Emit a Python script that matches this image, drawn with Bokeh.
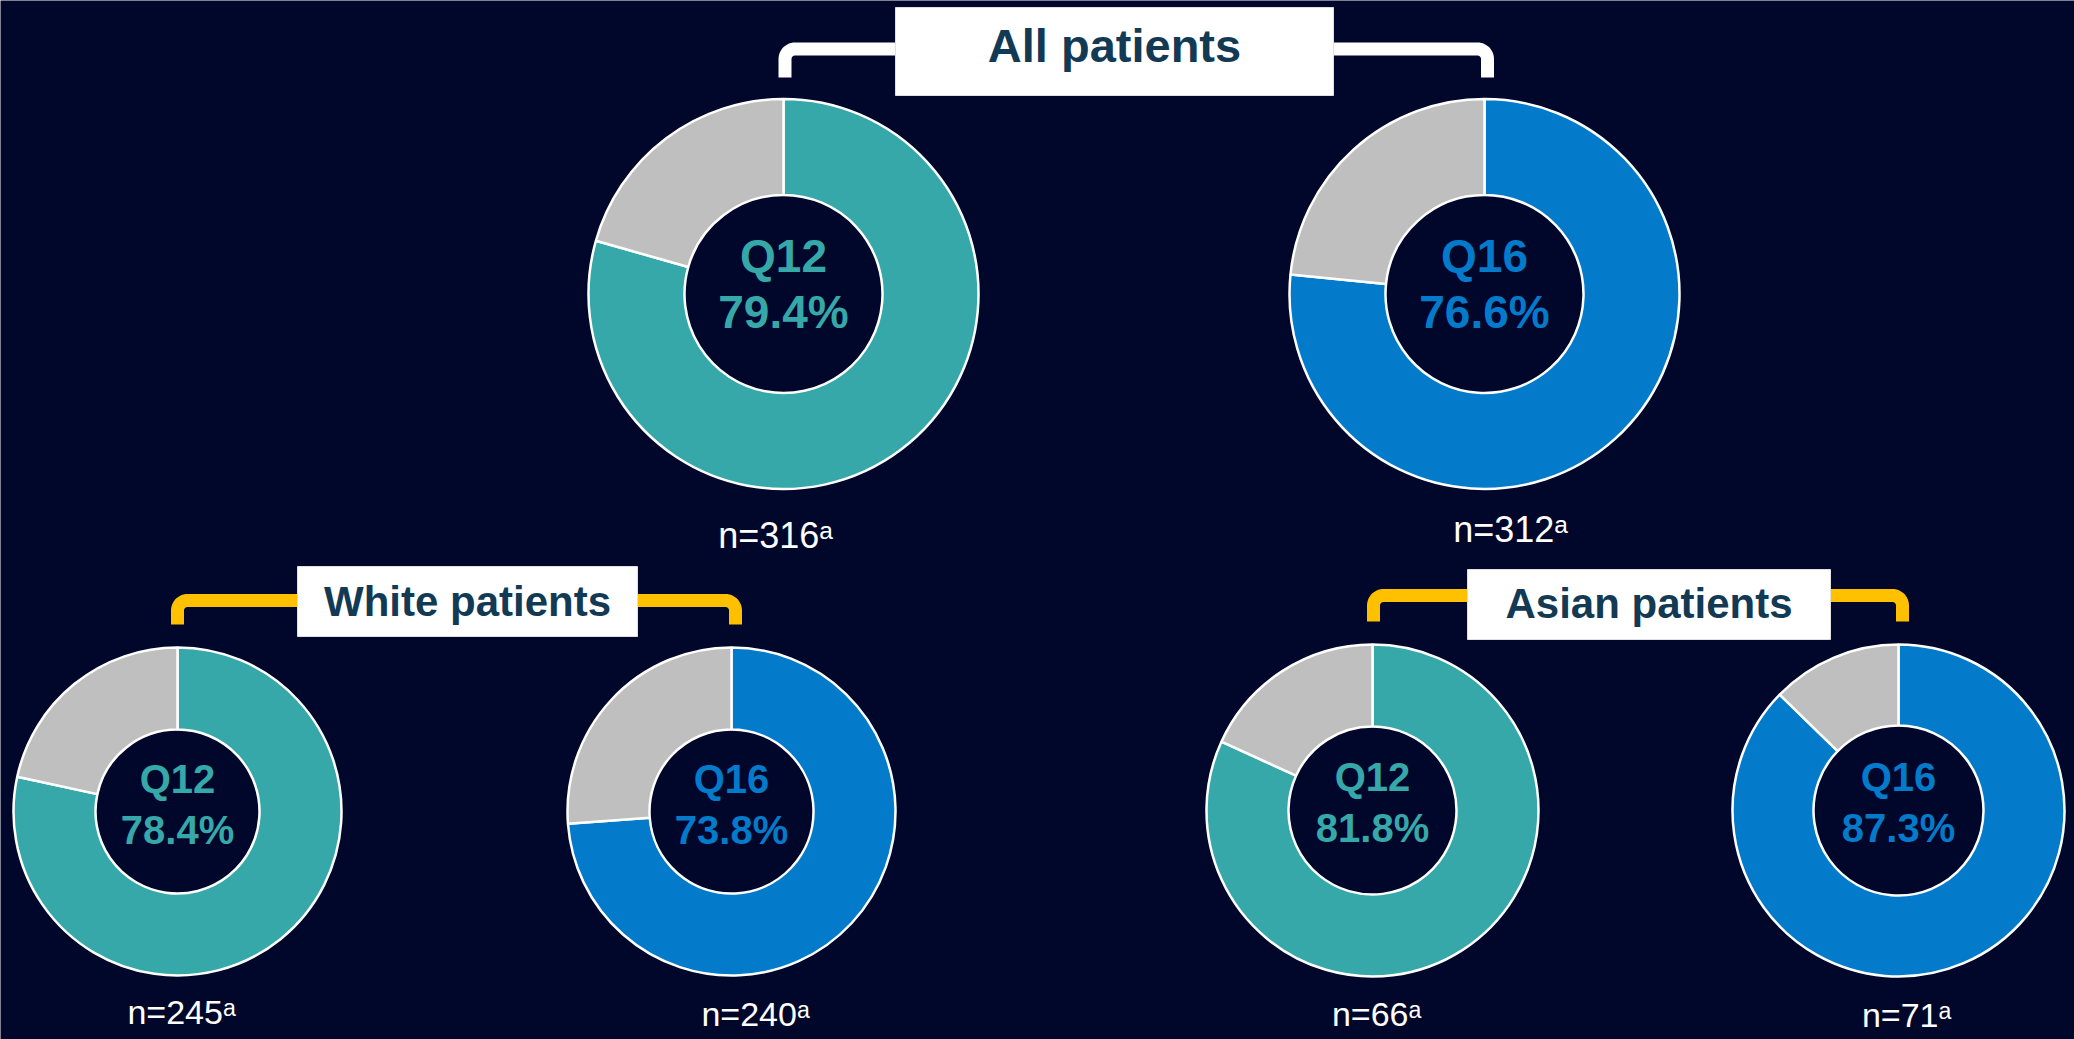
import numpy as np
from bokeh.plotting import figure
from bokeh.models import Range1d, ColumnDataSource
from bokeh.core.properties import value
from bokeh.embed import file_html
from bokeh.resources import INLINE

# ---------------- data ----------------
group_titles = ["All patients", "White patients", "Asian patients"]
doses = ["Q12", "Q16", "Q12", "Q16", "Q12", "Q16"]
pct_values = [79.4, 76.6, 78.4, 73.8, 81.8, 87.3]
n_values = [316, 312, 245, 240, 66, 71]

# ---------------- layout (screen px, y downward) ----------------
W, H = 2074, 1039
BG = "#00072b"
TEAL = "#36a8aa"
BLUE = "#037bca"
GRAY = "#bfbfbf"
NAVY = "#133a54"
YELLOW = "#ffc000"
FONT = "Liberation Sans"
BASE_FIX = 0.37  # empirical baseline correction (fraction of font size)

cx = [783, 1484, 177, 731, 1372, 1898]
cy = [293.5, 293.5, 811, 811, 810, 810]
r_out = [195, 195, 164, 164, 166, 166]
r_in = [99, 99, 82, 82, 84, 85]
label_size = [46, 46, 40, 40, 40, 40]
q_off = [-21, -21, -18, -18, -19, -19]
p_off = [35, 35, 33, 33, 32, 32]

n_x = [775, 1510, 181, 755, 1376, 1906]
n_base = [548, 542, 1024, 1026, 1026, 1027]
n_size = [36, 36, 34, 34, 34, 34]

# boxes: left, right, top, bottom (screen)
box_l = [895, 297, 1467]
box_r = [1333, 637, 1830]
box_t = [7, 566, 569]
box_b = [95, 636, 639]
title_base = [62, 617, 619]
title_size = [47, 42, 42]

# brackets: left x, right x, horizontal y, bottom y, color
br_l = [784.5, 177, 1373]
br_r = [1487, 735, 1902]
br_h = [48.5, 600, 595]
br_b = [77, 624, 621]
br_c = ["white", YELLOW, YELLOW]


def Y(sy):
    return H - sy


def TY(sy, size):
    # baseline position corrected for the renderer's text placement
    return H - (sy - BASE_FIX * size)


p = figure(width=W, height=H, x_range=Range1d(0, W), y_range=Range1d(0, H),
           output_backend="svg", toolbar_location=None, min_border=0,
           x_axis_location=None, y_axis_location=None,
           background_fill_color=BG, border_fill_color=BG, outline_line_color=None)
p.grid.visible = False

# ---------------- brackets ----------------
rc = 10.0
for xl, xr, yh, yb, col in zip(br_l, br_r, br_h, br_b, br_c):
    t = np.linspace(0, np.pi / 2, 12)
    lx = xl + rc - rc * np.cos(t)
    ly = yh + rc - rc * np.sin(t)
    rx = xr - rc + rc * np.sin(t)
    ry = yh + rc - rc * np.cos(t)
    xs = [xl] + list(lx) + list(rx) + [xr]
    ys = [yb] + list(ly) + list(ry) + [yb]
    p.line(xs, [Y(v) for v in ys], line_color=col, line_width=13,
           line_join="round", line_cap="butt")

# ---------------- title boxes ----------------
p.quad(left=box_l, right=box_r, top=[Y(v) for v in box_t], bottom=[Y(v) for v in box_b],
       fill_color="white", line_color="#e0e0e0", line_width=1)
p.text(x=[(a + b) / 2 for a, b in zip(box_l, box_r)],
       y=[TY(v, s) for v, s in zip(title_base, title_size)],
       text=group_titles, text_font=value(FONT), text_font_style="bold",
       text_font_size=[f"{s}px" for s in title_size], text_color=NAVY,
       text_align="center", text_baseline="alphabetic")

# ---------------- donuts ----------------
main_col = [TEAL if d == "Q12" else BLUE for d in doses]
xs, ys, ri, ro, sa, ea, fc = [], [], [], [], [], [], []
for i, pv in enumerate(pct_values):
    frac = pv / 100.0
    top = np.pi / 2
    xs.append(cx[i]); ys.append(Y(cy[i])); ri.append(r_in[i]); ro.append(r_out[i])
    sa.append(top - frac * 2 * np.pi); ea.append(top); fc.append(main_col[i])
    xs.append(cx[i]); ys.append(Y(cy[i])); ri.append(r_in[i]); ro.append(r_out[i])
    sa.append(top); ea.append(top + (1 - frac) * 2 * np.pi); fc.append(GRAY)

src = ColumnDataSource(dict(x=xs, y=ys, ri=ri, ro=ro, sa=sa, ea=ea, fc=fc))
p.annular_wedge(x="x", y="y", inner_radius="ri", outer_radius="ro",
                start_angle="sa", end_angle="ea", direction="anticlock",
                fill_color="fc", line_color="white", line_width=2.5, source=src)

# centre labels
p.text(x=cx, y=[TY(c + o, s) for c, o, s in zip(cy, q_off, label_size)], text=doses,
       text_font=value(FONT), text_font_style="bold",
       text_font_size=[f"{s}px" for s in label_size], text_color=main_col,
       text_align="center", text_baseline="alphabetic")
p.text(x=cx, y=[TY(c + o, s) for c, o, s in zip(cy, p_off, label_size)],
       text=[f"{v:.1f}%" for v in pct_values],
       text_font=value(FONT), text_font_style="bold",
       text_font_size=[f"{s}px" for s in label_size], text_color=main_col,
       text_align="center", text_baseline="alphabetic")

# n labels
p.text(x=n_x, y=[TY(v, s) for v, s in zip(n_base, n_size)],
       text=[f"n={n}\u1d43" for n in n_values],
       text_font=value(FONT), text_font_size=[f"{s}px" for s in n_size],
       text_color="white", text_align="center", text_baseline="alphabetic")

open("out.html", "w").write(file_html(p, INLINE))
